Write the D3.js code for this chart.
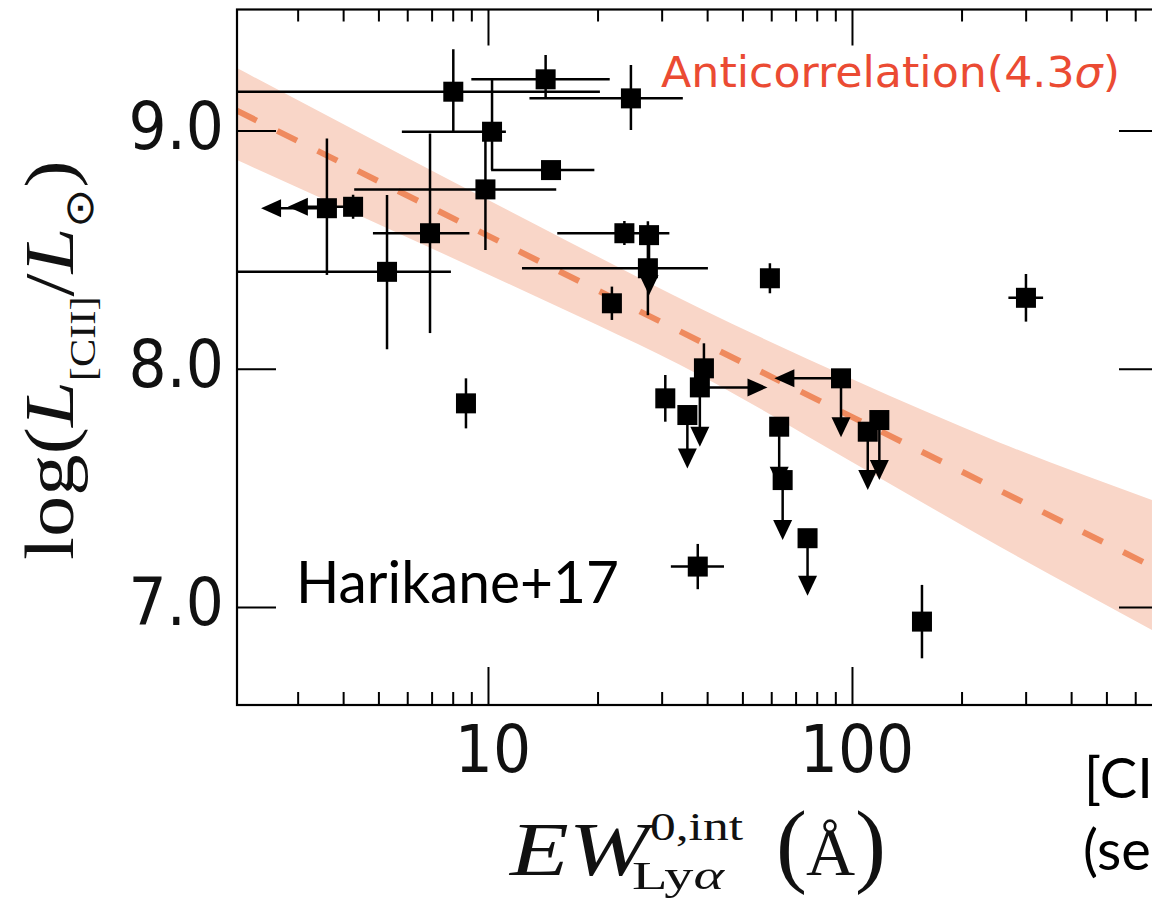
<!DOCTYPE html>
<html>
<head>
<meta charset="utf-8">
<script src="https://cdn.jsdelivr.net/npm/d3@7"></script>
<style>
body{margin:0;background:#fff;}
svg{display:block;}
</style>
</head>
<body>
<svg width="1152" height="905"></svg>
<script>
// EW_Lya (A) and log L[CII] for each galaxy
var ew    = [8.03, 14.4, 24.7, 10.26, 14.9, 9.84, 3.61, 4.26, 6.93, 5.28, 23.7, 27.7, 27.5, 21.9, 59.5, 300.6, 8.70, 39.2, 38.2, 30.7, 35.3, 63.1, 64.5, 75.5, 93.3, 118.9, 110.5, 37.7, 155.7];
var lcii  = [9.163, 9.215, 9.135, 8.995, 8.834, 8.753, 8.674, 8.680, 8.569, 8.407, 8.569, 8.561, 8.422, 8.275, 8.380, 8.298, 7.855, 8.002, 7.922, 7.876, 7.806, 7.757, 7.533, 7.289, 7.960, 7.785, 7.736, 7.170, 6.939];
// error bar ends (null = no bar)
var ewLo  = [1, 9.0, 13.0, 5.8, 10.2, 4.29, null, null, 4.83, 1, 15.5, null, 12.4, null, null, 269, null, null, null, null, null, null, null, null, null, null, null, 31.8, null];
var ewHi  = [20.3, 21.6, 34.3, 11.2, 19.6, 15.4, null, null, 8.89, 7.91, 31.5, null, 40.2, null, null, 335, null, null, null, null, null, null, null, null, null, null, null, 44.5, null];
var lciiLo = [8.995, 9.136, 9.002, 8.834, 8.815, 8.499, 8.394, 8.630, 8.150, 8.082, 8.520, null, 8.225, 8.205, 8.317, 8.198, 7.750, 7.895, null, 7.778, null, null, null, null, null, null, null, 7.075, 6.785];
var lciiHi = [9.341, 9.317, 9.275, 9.215, 8.853, 8.960, 8.967, 8.730, 8.988, 8.729, 8.620, null, 8.619, 8.345, 8.443, 8.398, 7.960, 8.107, null, 7.974, null, null, null, null, null, null, null, 7.265, 7.093];
// limits: arrow end values
var ewUpper  = [null, null, null, null, null, null, 2.38, 2.82, null, null, null, null, null, null, null, null, null, null, null, null, null, null, null, null, 61.2, null, null, null, null];
var ewLower  = [null, null, null, null, null, null, null, null, null, null, null, null, null, null, null, null, null, null, 58.6, null, null, null, null, null, null, null, null, null, null];
var lciiUpper = [null, null, null, null, null, null, null, null, null, null, null, 8.309, null, null, null, null, null, null, 7.673, null, 7.582, 7.505, 7.281, 7.047, 7.713, 7.533, 7.491, null, null];

// anticorrelation fit and its band
var fitEw = [2.044, 667];
var fitL  = [9.083, 7.171];
var bandEw = [2.044, 5.73, 13.55, 38.2, 100, 255, 667];
var bandHi = [9.262, 8.902, 8.605, 8.254, 7.957, 7.690, 7.449];
var bandLo = [8.876, 8.566, 8.303, 7.973, 7.609, 7.253, 6.904];

var xMajor = [10, 100];
var xMinor = [3, 4, 5, 6, 7, 8, 9, 20, 30, 40, 50, 60, 70, 80, 90, 200, 300, 400, 500, 600];
var xLabels = ['10', '100'];
var yMajor = [7, 8, 9];
var yLabels = ['7.0', '8.0', '9.0'];

var svg = d3.select('svg');
var x = d3.scaleLog().domain([2.044, 693]).range([237, 1158]);
var y = d3.scaleLinear().domain([6.589, 9.508]).range([705, 9.5]);

svg.append('clipPath').attr('id', 'pc').append('rect')
  .attr('x', 237).attr('y', 9.5).attr('width', 921).attr('height', 695.5);
var plot = svg.append('g').attr('clip-path', 'url(#pc)');

// band
var area = d3.area()
  .x(function(d, i) { return x(bandEw[i]); })
  .y0(function(d, i) { return y(bandLo[i]); })
  .y1(function(d, i) { return y(bandHi[i]); })
  .curve(d3.curveMonotoneX);
plot.append('path').datum(bandEw).attr('d', area).attr('fill', '#f9d6c8');

var line = d3.line()
  .x(function(d, i) { return x(fitEw[i]); })
  .y(function(d, i) { return y(fitL[i]); });
plot.append('path').datum(fitEw).attr('d', line)
  .attr('fill', 'none').attr('stroke', '#ef8a5e').attr('stroke-width', 6)
  .attr('stroke-dasharray', '22,23');

// error bars, limits, markers
var eb = plot.append('g').attr('stroke', '#000').attr('stroke-width', 2.5).attr('fill', 'none');
var heads = plot.append('g').attr('fill', '#000');
ew.forEach(function(v, i) {
  var px = x(v), py = y(lcii[i]);
  if (ewLo[i] !== null) {
    eb.append('line').attr('x1', x(ewLo[i])).attr('x2', x(ewHi[i])).attr('y1', py).attr('y2', py);
  }
  if (lciiLo[i] !== null) {
    eb.append('line').attr('x1', px).attr('x2', px).attr('y1', y(lciiLo[i])).attr('y2', y(lciiHi[i]));
  }
  if (ewUpper[i] !== null) {
    var ex = x(ewUpper[i]);
    eb.append('line').attr('x1', px).attr('x2', ex + 4).attr('y1', py).attr('y2', py);
    heads.append('path').attr('d', 'M' + ex + ',' + py + 'L' + (ex + 20) + ',' + (py - 9) + 'L' + (ex + 20) + ',' + (py + 9) + 'Z');
  }
  if (ewLower[i] !== null) {
    var ex2 = x(ewLower[i]);
    eb.append('line').attr('x1', px).attr('x2', ex2 - 4).attr('y1', py).attr('y2', py);
    heads.append('path').attr('d', 'M' + ex2 + ',' + py + 'L' + (ex2 - 20) + ',' + (py - 9) + 'L' + (ex2 - 20) + ',' + (py + 9) + 'Z');
  }
  if (lciiUpper[i] !== null) {
    var ey = y(lciiUpper[i]);
    eb.append('line').attr('x1', px).attr('x2', px).attr('y1', py).attr('y2', ey - 4);
    heads.append('path').attr('d', 'M' + px + ',' + ey + 'L' + (px - 9.5) + ',' + (ey - 20) + 'L' + (px + 9.5) + ',' + (ey - 20) + 'Z');
  }
});
plot.append('g').selectAll('rect').data(ew).enter().append('rect')
  .attr('x', function(d) { return x(d) - 10; })
  .attr('y', function(d, i) { return y(lcii[i]) - 10; })
  .attr('width', 20).attr('height', 20).attr('fill', '#000');

// axes: ticks point inward on all four sides
function clean(g) {
  g.select('.domain').remove();
  g.selectAll('line').attr('stroke', '#000').attr('stroke-width', 2);
}
svg.append('g').attr('transform', 'translate(0,705)')
  .call(d3.axisBottom(x).tickValues(xMajor).tickSizeInner(-38).tickSizeOuter(0).tickFormat('')).call(clean);
svg.append('g').attr('transform', 'translate(0,705)')
  .call(d3.axisBottom(x).tickValues(xMinor).tickSizeInner(-13).tickSizeOuter(0).tickFormat('')).call(clean);
svg.append('g').attr('transform', 'translate(0,9.5)')
  .call(d3.axisTop(x).tickValues(xMajor).tickSizeInner(-36).tickSizeOuter(0).tickFormat('')).call(clean);
svg.append('g').attr('transform', 'translate(0,9.5)')
  .call(d3.axisTop(x).tickValues(xMinor).tickSizeInner(-12).tickSizeOuter(0).tickFormat('')).call(clean);
svg.append('g').attr('transform', 'translate(237,0)')
  .call(d3.axisLeft(y).tickValues(yMajor).tickSizeInner(-39).tickSizeOuter(0).tickFormat('')).call(clean);
svg.append('g').attr('transform', 'translate(1158,0)')
  .call(d3.axisRight(y).tickValues(yMajor).tickSizeInner(-39).tickSizeOuter(0).tickFormat('')).call(clean);
svg.append('rect').attr('x', 237).attr('y', 9.5).attr('width', 921).attr('height', 695.5)
  .attr('fill', 'none').attr('stroke', '#000').attr('stroke-width', 2.2);

// tick labels (the source image is slightly stretched vertically)
yMajor.forEach(function(v, i) {
  svg.append('text').attr('transform', 'translate(224,' + (y(v) + 18) + ') scale(1,1.11)')
    .attr('text-anchor', 'end').attr('font-family', 'DejaVu Sans').attr('font-size', 60)
    .attr('fill', '#111').text(yLabels[i]);
});
xMajor.forEach(function(v, i) {
  svg.append('text').attr('transform', 'translate(' + (x(v) + 5) + ',772) scale(1,1.11)')
    .attr('text-anchor', 'middle').attr('font-family', 'DejaVu Sans').attr('font-size', 60)
    .attr('fill', '#111').text(xLabels[i]);
});

// y axis label
var yl = svg.append('text').attr('font-family', 'Liberation Serif').attr('font-size', 70).attr('fill', '#111');
yl.append('tspan').text('log(');
yl.append('tspan').attr('font-style', 'italic').text('L');
yl.append('tspan').attr('font-size', 36).attr('dy', 22).text('[CII]');
yl.append('tspan').attr('dy', -22).text('/');
yl.append('tspan').attr('font-style', 'italic').text('L');
yl.append('tspan').attr('font-size', 40).attr('dy', 20).text('\u2299');
yl.append('tspan').attr('dy', -20).text(')');
var ylen = yl.node().getComputedTextLength();
yl.attr('transform', 'translate(73,560) rotate(-90) scale(' + (400 / ylen) + ',1)');

// x axis label
var xl = svg.append('g').attr('font-family', 'Liberation Serif').attr('fill', '#111');
xl.append('text').attr('x', 510).attr('y', 875).attr('font-size', 76).attr('font-style', 'italic')
  .attr('textLength', 139).attr('lengthAdjust', 'spacingAndGlyphs').text('EW');
xl.append('text').attr('x', 650).attr('y', 840).attr('font-size', 40)
  .attr('textLength', 93).attr('lengthAdjust', 'spacingAndGlyphs').text('0,int');
var sub = xl.append('text').attr('x', 632).attr('y', 889).attr('font-size', 40)
  .attr('textLength', 92).attr('lengthAdjust', 'spacingAndGlyphs');
sub.append('tspan').text('Ly');
sub.append('tspan').attr('font-style', 'italic').text('\u03b1');
xl.append('text').attr('x', 776).attr('y', 875).attr('font-size', 93).text('(');
xl.append('text').attr('x', 806).attr('y', 875).attr('font-size', 68).text('\u00c5');
xl.append('text').attr('x', 855).attr('y', 875).attr('font-size', 93).text(')');

// annotations
svg.append('text').attr('x', 661).attr('y', 87).attr('font-family', 'DejaVu Sans').attr('font-size', 42)
  .attr('fill', '#eb4b33').attr('textLength', 459).attr('lengthAdjust', 'spacingAndGlyphs')
  .html('Anticorrelation(4.3<tspan font-style="italic">\u03c3</tspan>)');
svg.append('text').attr('x', 296).attr('y', 603).attr('font-family', 'Lato').attr('font-size', 58)
  .attr('fill', '#000').attr('textLength', 323).attr('lengthAdjust', 'spacingAndGlyphs').text('Harikane+17');
svg.append('text').attr('x', 1084).attr('y', 798).attr('font-family', 'Lato').attr('font-size', 56)
  .attr('fill', '#000').text('[CII] luminosity');
svg.append('text').attr('x', 1083).attr('y', 870).attr('font-family', 'Lato').attr('font-size', 56)
  .attr('fill', '#000').text('(see text)');
</script>
</body>
</html>
